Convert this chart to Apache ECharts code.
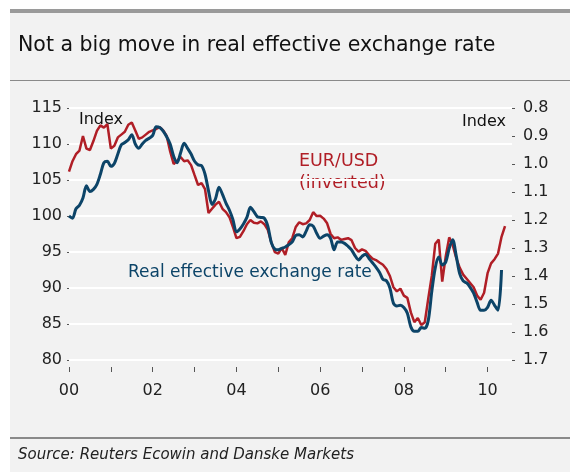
<!DOCTYPE html>
<html>
<head>
<meta charset="utf-8">
<script src="https://cdn.jsdelivr.net/npm/echarts@6/dist/echarts.min.js"></script>
<style>
  html, body { margin: 0; padding: 0; background: #fff; }
  #main { width: 570px; height: 472px; }
</style>
</head>
<body>
<div id="main"></div>
<script>
// monthly, Jan 2000 = index 0
var reer = [
	100.0, 99.7, 101.0, 101.5, 102.5, 104.2, 103.4, 103.7, 104.4, 105.8, 107.4, 107.6,
	106.9, 107.3, 108.6, 109.9, 110.2, 110.6, 111.3, 110.0, 109.4, 110.0, 110.5, 110.8,
	111.2, 112.4, 112.3, 111.8, 111.0, 110.0, 108.3, 107.4, 108.8, 110.1, 109.4, 108.6,
	107.6, 107.1, 107.0, 105.8, 103.5, 101.6, 102.4, 104.0, 103.0, 101.8, 100.8, 99.5,
	97.8, 98.2, 98.9, 99.8, 101.2, 100.6, 99.9, 99.8, 99.7, 98.6, 96.3, 95.4,
	95.3, 95.5, 95.7, 96.0, 96.4, 97.3, 97.4, 97.1, 97.9, 98.8, 98.6, 97.6,
	96.9, 97.2, 97.4, 96.9, 95.3, 96.4, 96.4, 96.2, 95.8, 95.3, 94.5, 93.9,
	94.4, 94.7, 94.1, 93.5, 92.9, 92.2, 91.2, 91.0, 90.0, 87.9, 87.5, 87.6,
	87.3, 86.5, 84.6, 84.0, 84.0, 84.5, 84.4, 85.5, 89.5, 92.8, 94.3, 93.2,
	93.6, 95.5, 96.7, 94.5, 92.0, 91.0, 90.7, 90.1, 89.3, 88.0, 86.9, 86.9,
	87.3, 88.3, 87.6, 86.9, 92.5
];
var eurusd = [
	1.027, 0.990, 0.965, 0.952, 0.900, 0.945, 0.950, 0.918, 0.882, 0.862, 0.870, 0.858,
	0.945, 0.935, 0.905, 0.895, 0.885, 0.860, 0.852, 0.880, 0.910, 0.905, 0.895, 0.885,
	0.880, 0.875, 0.868, 0.880, 0.900, 0.955, 1.000, 0.988, 0.975, 0.990, 0.987, 1.004,
	1.040, 1.075, 1.068, 1.090, 1.175, 1.160, 1.145, 1.135, 1.160, 1.172, 1.190, 1.225,
	1.265, 1.260, 1.240, 1.215, 1.200, 1.210, 1.212, 1.205, 1.215, 1.235, 1.280, 1.315,
	1.320, 1.300, 1.325, 1.280, 1.265, 1.225, 1.208, 1.215, 1.212, 1.200, 1.172, 1.186,
	1.185, 1.195, 1.212, 1.250, 1.265, 1.262, 1.271, 1.268, 1.265, 1.272, 1.300, 1.313,
	1.305, 1.310, 1.325, 1.338, 1.343, 1.352, 1.360, 1.375, 1.400, 1.440, 1.455, 1.445,
	1.470, 1.478, 1.530, 1.565, 1.550, 1.575, 1.565, 1.480, 1.400, 1.285, 1.270, 1.420,
	1.330, 1.262, 1.290, 1.335, 1.370, 1.395, 1.410, 1.425, 1.440, 1.470, 1.485, 1.460,
	1.390, 1.355, 1.340, 1.320, 1.260, 1.222
];
var yearLabels = ['00', '02', '04', '06', '08', '10'];

var tickMonths = [];
for (var i = 0; i <= 10; i++) tickMonths.push(i * 12);
var labelMonths = [];
for (var j = 0; j < yearLabels.length; j++) labelMonths.push(j * 24);

function toPairs(arr) {
	var out = [];
	for (var k = 0; k < arr.length; k++) out.push([k, arr[k]]);
	return out;
}

var font = 'DejaVu Sans';
var option = {
	animation: false,
	backgroundColor: '#ffffff',
	textStyle: { fontFamily: font },
	graphic: [
		{ type: 'rect', shape: { x: 10, y: 9, width: 560, height: 463 }, style: { fill: '#f2f2f2' }, z: -10 },
		{ type: 'rect', shape: { x: 10, y: 9, width: 560, height: 4 }, style: { fill: '#9a9a9a' }, z: -9 },
		{ type: 'rect', shape: { x: 10, y: 80, width: 560, height: 1 }, style: { fill: '#8a8a8a' }, z: -9 },
		{ type: 'rect', shape: { x: 10, y: 437, width: 560, height: 2 }, style: { fill: '#8a8a8a' }, z: -9 },
		{ type: 'text', left: 18, top: 35, style: { text: 'Not a big move in real effective exchange rate', font: '20.5px "DejaVu Sans"', fill: '#111' } },
		{ type: 'text', left: 18, top: 448, style: { text: 'Source: Reuters Ecowin and Danske Markets', font: 'italic 15px "DejaVu Sans"', fill: '#222' } },
		{ type: 'text', left: 79, top: 112, style: { text: 'Index', font: '16px "DejaVu Sans"', fill: '#111' } },
		{ type: 'text', left: 462, top: 114, style: { text: 'Index', font: '16px "DejaVu Sans"', fill: '#111' } },
		{ type: 'text', left: 299, top: 150, style: { text: 'EUR/USD\n(inverted)', font: '17.5px "DejaVu Sans"', lineHeight: 22, fill: '#b01e26' } },
		{ type: 'text', left: 128, top: 264, style: { text: 'Real effective exchange rate', font: '17px "DejaVu Sans"', fill: '#0c4468' } }
	],
	grid: { left: 69, right: 58, top: 108, bottom: 112 },
	xAxis: {
		type: 'value',
		min: 0,
		max: 127,
		offset: 7,
		axisLine: { show: false },
		splitLine: { show: false },
		axisTick: { show: true, length: 5, customValues: tickMonths, lineStyle: { color: '#555', width: 1 } },
		axisLabel: {
			customValues: labelMonths,
			margin: 16,
			fontSize: 16,
			color: '#222',
			formatter: function (v) { return yearLabels[Math.round(v / 24)]; }
		}
	},
	yAxis: [
		{
			type: 'value',
			min: 80,
			max: 115,
			interval: 5,
			axisLine: { show: false },
			axisTick: { show: true, length: 2, lineStyle: { color: '#555' } },
			axisLabel: { margin: 7, fontSize: 16, color: '#222' },
			splitLine: { show: true, lineStyle: { color: '#ffffff', width: 2 } }
		},
		{
			type: 'value',
			position: 'right',
			inverse: true,
			min: 0.8,
			max: 1.7,
			interval: 0.1,
			axisLine: { show: false },
			axisTick: { show: true, length: 3, lineStyle: { color: '#555' } },
			axisLabel: { margin: 11, fontSize: 16, color: '#222', formatter: function (v) { return v.toFixed(1); } },
			splitLine: { show: false }
		}
	],
	series: [
		{
			name: 'EUR/USD (inverted)',
			type: 'line',
			yAxisIndex: 1,
			data: toPairs(eurusd),
			showSymbol: false,
			lineStyle: { color: '#b01e26', width: 2.5 }
		},
		{
			name: 'Real effective exchange rate',
			type: 'line',
			yAxisIndex: 0,
			data: toPairs(reer),
			showSymbol: false,
			smooth: 0.3,
			lineStyle: { color: '#0c4468', width: 3 }
		}
	]
};

var chart = echarts.init(document.getElementById('main'));
chart.setOption(option);
</script>
</body>
</html>
